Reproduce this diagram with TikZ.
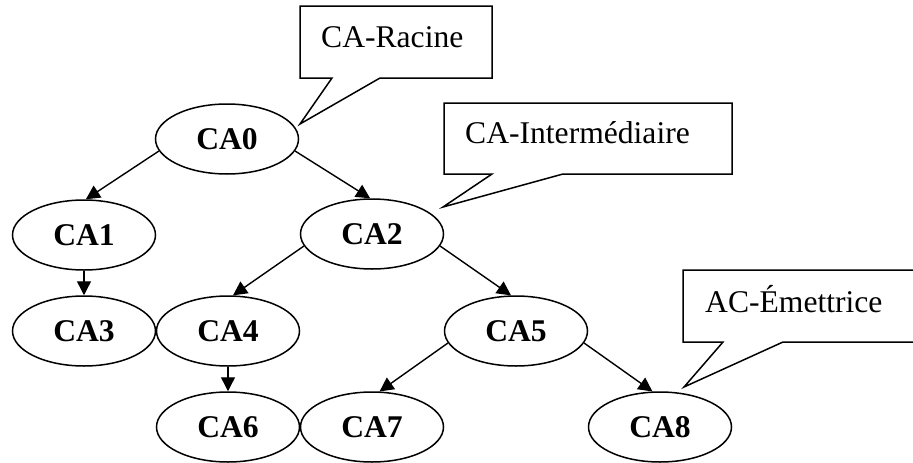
\documentclass[tikz,border=0pt]{standalone}
\usepackage{fontspec}
\setmainfont{Liberation Serif}
\usetikzlibrary{arrows.meta,shapes.geometric}
\begin{document}
\begin{tikzpicture}[x=1pt,y=-1pt,
  ca/.style={ellipse,draw,line width=1.5pt,minimum width=143pt,minimum height=70pt,inner sep=0pt,
    font=\fontsize{31.6}{36}\selectfont\bfseries},
  link/.style={line width=1.4pt,-{Triangle[length=14pt,width=14pt]}},
  bubble/.style={draw,line width=1.5pt,fill=white,line join=miter},
  btext/.style={anchor=base west,inner sep=0pt,font=\fontsize{31.6}{36}\selectfont}]
\clip (0,0) rectangle (913,463);
\fill[white] (0,0) rectangle (913,463);
% tree nodes
\node[ca] (CA0) at (227,139) {CA0};
\node[ca] (CA1) at (84,235) {CA1};
\node[ca] (CA2) at (372,234) {CA2};
\node[ca] (CA3) at (84,331) {CA3};
\node[ca] (CA4) at (228,331) {CA4};
\node[ca] (CA5) at (516,331) {CA5};
\node[ca] (CA6) at (228,427) {CA6};
\node[ca] (CA7) at (372,427) {CA7};
\node[ca] (CA8) at (660,427) {CA8};
% connectors
\draw[link] (CA0.190) -- (CA1.87);
\draw[link] (CA0.-10) -- (CA2.93);
\draw[link] (CA1.south) -- (CA3.north);
\draw[link] (CA2.190) -- (CA4.82);
\draw[link] (CA2.-10) -- (CA5.98);
\draw[link] (CA4.south) -- (CA6.north);
\draw[link] (CA5.190) -- (CA7.78);
\draw[link] (CA5.-10) -- (CA8.102);
% callouts
\draw[bubble] (300,6) -- (492,6) -- (492,78) -- (380,78) -- (300,124) -- (332,78) -- (300,78) -- cycle;
\node[btext] (racine) at (321,47) {CA-Racine};
\draw[bubble] (444,103) -- (732,103) -- (732,174) -- (563,174) -- (443,207) -- (492,174) -- (444,174) -- cycle;
\node[btext] (inter) at (465,143) {CA-Intermédiaire};
\draw[bubble] (683,270) -- (925,270) -- (925,342) -- (783,342) -- (684,387) -- (723,342) -- (683,342) -- cycle;
\node[btext] (emet) at (705,312) {AC-Émettrice};
\end{tikzpicture}
\end{document}
